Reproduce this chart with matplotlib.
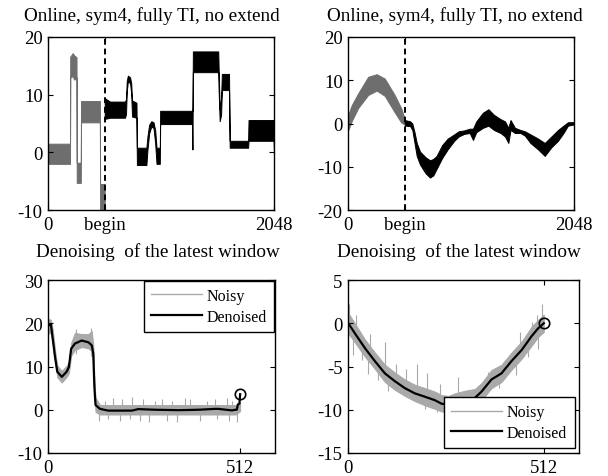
import numpy as np
import matplotlib
matplotlib.use('Agg')
import matplotlib.pyplot as plt
from matplotlib.lines import Line2D

# ---- top left: blocks signal, first window (gray) and online part (black)
# bands are read as (x, lower edge, upper edge) of the noisy trace
tl_win_x  = [0, 197, 199, 222, 235, 256, 258, 295, 297, 468, 470, 512]
tl_win_lo = [-2.0, -2.0, 13.0, 13.2, 12.6, 13.0, -5.3, -5.3, 5.2, 5.2, -9.9, -9.9]
tl_win_hi = [1.5, 1.5, 16.6, 17.2, 16.8, 16.5, -1.8, -1.8, 8.9, 8.9, -5.5, -5.5]

tl_x  = [512, 560, 696, 705, 712, 722, 742, 752, 760, 800, 804, 890, 900, 915, 935, 955, 970, 982,
         1012, 1015, 1304, 1308, 1312, 1542, 1545, 1555, 1568, 1575, 1640, 1646, 1813, 1817, 2044, 2048]
tl_lo = [5.8, 6.0, 6.0, 6.6, 10.6, 12.3, 12.0, 10.2, 6.2, 6.0, -2.2, -2.2, 0.5, 3.3, 4.5, 4.2, 1.5, -2.0,
         -2.0, 4.9, 4.9, 0.5, 13.9, 13.9, 11.0, 5.4, 6.5, 10.8, 10.8, 0.8, 0.8, 2.0, 2.0, -0.2]
tl_hi = [9.4, 8.8, 8.8, 9.2, 12.4, 13.3, 13.0, 12.0, 9.0, 8.6, 0.8, 0.8, 2.8, 4.8, 5.4, 5.2, 3.8, 0.8,
         0.8, 7.2, 7.2, 7.2, 17.5, 17.5, 15.0, 7.5, 9.5, 13.6, 13.6, 2.0, 2.0, 5.6, 5.6, 5.0]

# ---- top right: smooth signal
tr_win_x  = [0, 30, 90, 180, 257, 330, 420, 480, 512]
tr_win_lo = [-1.5, 0.5, 3.6, 6.6, 7.6, 6.4, 2.6, 0.2, -0.2]
tr_win_hi = [2.0, 4.2, 7.0, 10.8, 11.4, 10.4, 6.6, 3.5, 1.0]

tr_x  = [512, 560, 580, 600, 620, 650, 700, 740, 770, 800, 850, 900, 960, 1000, 1050, 1100, 1130, 1160,
         1220, 1270, 1320, 1380, 1420, 1450, 1470, 1510, 1560, 1600, 1650, 1720, 1780, 1840, 1900,
         1950, 1990, 2048]
tr_lo = [-0.5, -0.6, -1.5, -4.5, -7.5, -9.5, -11.5, -12.5, -12.0, -10.5, -8.0, -6.0, -4.0, -3.0, -2.4,
         -2.2, -3.8, -2.0, -1.0, -0.5, -1.5, -2.2, -3.0, -4.5, -1.5, -2.2, -2.2, -2.8, -4.5, -6.0,
         -7.5, -5.5, -4.0, -2.2, -0.5, -0.2]
tr_hi = [0.8, 0.5, 0.0, -2.0, -4.5, -6.5, -7.8, -8.5, -8.2, -7.5, -5.0, -3.5, -2.5, -1.8, -1.6,
         -1.2, -1.2, 0.5, 2.5, 3.3, 2.0, 1.0, 0.5, -1.0, 0.8, -1.0, -1.5, -1.8, -2.5, -3.5,
         -4.5, -3.0, -1.5, -0.5, 0.3, 0.3]

# ---- bottom left: latest window of the blocks signal
bl_den_x = [0, 7, 18, 24, 36, 49, 55, 61, 71, 89, 107, 116, 120, 123, 126, 138, 160, 223, 240, 285,
            347, 401, 445, 454, 490, 499, 503, 506, 510, 512]
bl_den_y = [19.5, 19.7, 12.2, 8.8, 7.6, 8.8, 9.9, 14.1, 15.3, 16.0, 15.6, 14.9, 13.0, 5.3, 1.1, 0.2,
            -0.2, -0.2, 0.15, 0.0, -0.1, 0.0, 0.2, 0.2, -0.15, 0.0, 0.0, 1.2, 1.4, 3.6]
bl_noisy_x  = [0, 7, 12, 18, 24, 36, 49, 55, 61, 71, 89, 107, 116, 120, 123, 126, 138, 500, 505, 512]
bl_noisy_lo = [17.5, 18.0, 15.0, 10.8, 7.5, 6.3, 7.6, 8.5, 12.5, 13.8, 14.5, 14.2, 13.5, 11.0, 4.0,
               -0.5, -1.1, -1.1, -0.8, -0.3]
bl_noisy_hi = [21.0, 20.8, 18.5, 13.8, 10.2, 9.0, 10.2, 11.2, 15.5, 17.8, 17.5, 17.5, 18.2, 15.0, 7.0,
               2.8, 1.1, 1.1, 1.5, 1.8]
bl_spk_x  = [0, 75, 115, 134, 151, 160, 174, 192, 196, 218, 223, 245, 254, 268, 285, 303, 316, 330,
             343, 365, 378, 405, 423, 445, 450, 476, 481, 490, 503]
bl_spk_lo = [19, 13, 12.5, -2.5, 0, -2.1, 0, -2.5, 0, -2.2, 0, -2.6, 0, -2.8, 0, 0, -2.5, 0,
             -2.8, 0, 0, -2.7, 0, 0, -2.2, 0, -2.5, 0, -2.8]
bl_spk_hi = [21.5, 18.6, 18.8, 0, 2.1, 0, 2.7, 0, 2.4, 0, 2.9, 0, 2.4, 0, 2.1, 2.6, 0, 2.1,
             0, 2.7, 2.6, 0, 2.1, 2.4, 0, 2.7, 0, 2.1, 0]

# ---- bottom right: latest window of the smooth signal
br_den_x = [0, 17, 44, 70, 96, 122, 148, 174, 201, 227, 244, 262, 279, 305, 331, 349, 375, 401, 427,
            454, 480, 497, 512]
br_den_y = [0, -1.15, -2.9, -4.4, -5.8, -6.7, -7.5, -8.1, -8.5, -8.9, -9.3, -9.4, -9.15, -8.85, -8.65,
            -7.9, -6.5, -5.8, -4.4, -3.1, -1.5, -0.6, 0]
br_noisy_lo = [-1.2, -2.2, -3.9, -5.3, -6.8, -7.7, -8.4, -9.0, -9.5, -9.9, -10.2, -10.3, -10.1, -9.8,
               -9.6, -8.9, -7.5, -6.8, -5.4, -4.1, -2.6, -1.6, -1.0]
br_noisy_hi = [1.2, 0.0, -1.9, -3.4, -4.8, -5.7, -6.5, -7.1, -7.5, -7.9, -8.3, -8.4, -8.1, -7.8, -7.6,
               -6.9, -5.4, -4.8, -3.4, -2.1, -0.4, 0.4, 1.0]
br_spk_x  = [2, 13, 20, 35, 52, 57, 78, 96, 105, 124, 152, 166, 179, 201, 205, 231, 240, 255, 288,
             366, 395, 440, 449, 471, 480, 493, 497, 508]
br_spk_lo = [-0.5, -3.7, -1.5, -4.3, -5.85, -4.0, -6.6, -6.0, -7.8, -7.0, -7.8, -8.9, -8.5, -9.9, -8.8,
             -10.3, -9.5, -10.8, -9.2, -7.5, -7.5, -6.0, -3.2, -3.9, -2.2, -1.2, -3.0, -0.5]
br_spk_hi = [2.2, -0.5, 1.0, -2.0, -3.2, -1.2, -4.5, -2.2, -5.8, -4.7, -5.3, -7.2, -4.7, -8.0, -5.8,
             -8.5, -7.0, -9.0, -6.2, -5.6, -5.5, -4.2, -1.0, -1.8, 0.2, 0.9, -0.8, 2.2]

plt.rcParams['font.family'] = ['Liberation Serif', 'DejaVu Serif']
plt.rcParams['font.size'] = 13.5
plt.rcParams['axes.unicode_minus'] = False

WIN = '#6e6e6e'
NOISY = '#a9a9a9'
W, H = 608.0, 477.0

fig = plt.figure(figsize=(6.08, 4.77), dpi=100)

def box(l, t, r, b):
    return fig.add_axes([l/W, 1 - b/H, (r - l)/W, (b - t)/H])

def style(ax, xlim, ylim, yticks):
    ax.set_xlim(xlim)
    ax.set_ylim(ylim)
    ax.set_yticks(yticks)
    ax.tick_params(direction='in', top=True, right=True, length=3.5, width=0.8, pad=4,
                   labelsize=13.5)
    for s in ax.spines.values():
        s.set_linewidth(1.0)

def band(ax, x, lo, hi, c):
    ax.fill_between(x, lo, hi, color=c, edgecolor=c, lw=0.7)

ax1 = box(48.3, 38, 274, 211)
band(ax1, tl_win_x, tl_win_lo, tl_win_hi, WIN)
band(ax1, tl_x, tl_lo, tl_hi, 'k')
ax1.axvline(512, color='k', ls='--', lw=1.4, dashes=(3, 2))
style(ax1, (0, 2048), (-10, 20), [-10, 0, 10, 20])

ax2 = box(348.3, 38, 574.3, 211)
band(ax2, tr_win_x, tr_win_lo, tr_win_hi, WIN)
band(ax2, tr_x, tr_lo, tr_hi, 'k')
ax2.axvline(512, color='k', ls='--', lw=1.4, dashes=(3, 2))
style(ax2, (0, 2048), (-20, 20), [-20, -10, 0, 10, 20])

for ax in (ax1, ax2):
    ax.set_xticks([0, 512, 2048])
    ax.set_xticklabels(['0', 'begin', '2048'])

handles = [Line2D([], [], color=NOISY, lw=1.0), Line2D([], [], color='k', lw=1.6)]
labels = ['Noisy', 'Denoised']

ax3 = box(48.3, 281, 275, 454)
band(ax3, bl_noisy_x, bl_noisy_lo, bl_noisy_hi, NOISY)
ax3.vlines(bl_spk_x, bl_spk_lo, bl_spk_hi, color=NOISY, lw=0.8)
ax3.plot(bl_den_x, bl_den_y, color='k', lw=1.6)
ax3.plot(bl_den_x[-1], bl_den_y[-1], 'o', mfc='none', mec='k', ms=7.5, mew=1.2)
style(ax3, (0, 605), (-10, 30), [-10, 0, 10, 20, 30])
leg = ax3.legend(handles, labels, loc='upper right', fontsize=11.5, fancybox=False, framealpha=1,
                 edgecolor='k', handlelength=3.2, handletextpad=0.3, borderpad=0.45,
                 labelspacing=0.3, borderaxespad=0.05)
leg.get_frame().set_linewidth(1.0)

ax4 = box(348.3, 281, 579.3, 454)
band(ax4, br_den_x, br_noisy_lo, br_noisy_hi, NOISY)
ax4.vlines(br_spk_x, br_spk_lo, br_spk_hi, color=NOISY, lw=0.8)
ax4.plot(br_den_x, br_den_y, color='k', lw=1.6)
ax4.plot(br_den_x[-1], br_den_y[-1], 'o', mfc='none', mec='k', ms=7.5, mew=1.2)
style(ax4, (0, 605), (-15, 5), [-15, -10, -5, 0, 5])
leg = ax4.legend(handles, labels, loc='lower right', fontsize=11.5, fancybox=False, framealpha=1,
                 edgecolor='k', handlelength=3.2, handletextpad=0.3, borderpad=0.45,
                 labelspacing=0.3, borderaxespad=0.3)
leg.get_frame().set_linewidth(1.0)

for ax in (ax3, ax4):
    ax.set_xticks([0, 512])

titles = [('Online, sym4, fully TI, no extend', 151.5, 20.7),
          ('Online, sym4, fully TI, no extend', 455, 20.7),
          ('Denoising  of the latest window', 158, 256.7),
          ('Denoising  of the latest window', 458.5, 256.7)]
for t, x, y in titles:
    fig.text(x/W, 1 - y/H, t, ha='center', va='baseline', fontsize=13.8)

fig.savefig('out.png', dpi=100)
